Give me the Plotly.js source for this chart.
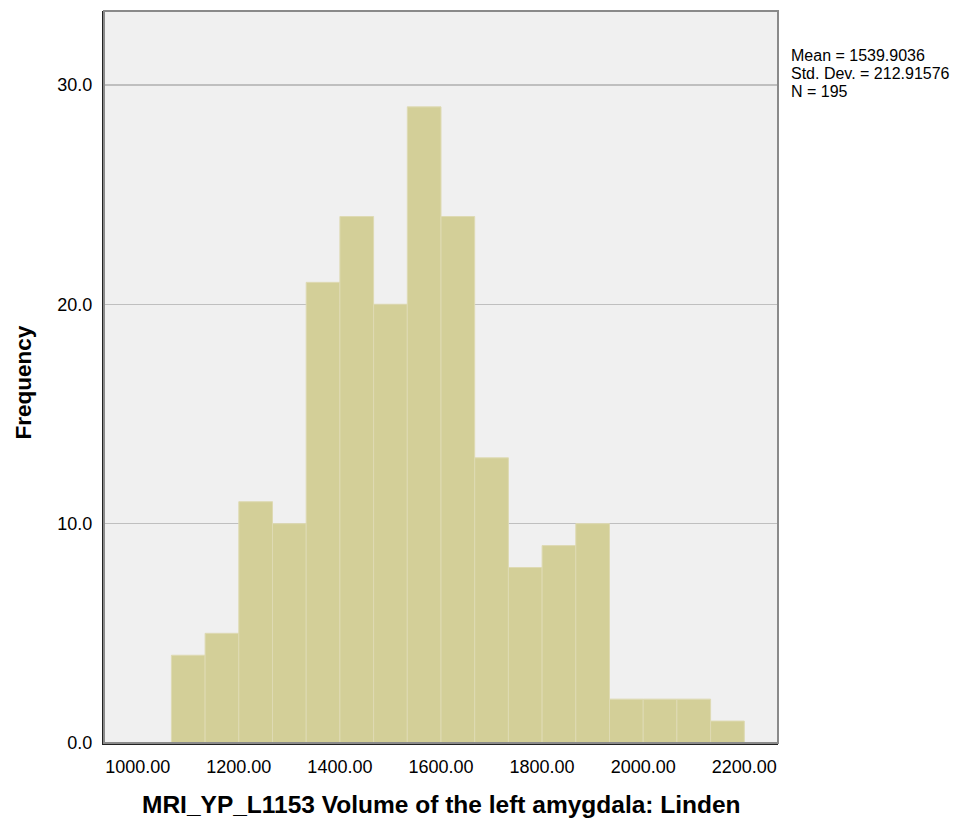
<!DOCTYPE html>
<html>
<head>
<meta charset="utf-8">
<script src="https://cdn.plot.ly/plotly-3.0.1.min.js"></script>
<style>html,body{margin:0;padding:0;background:#fff;}#chart{width:975px;height:829px;}</style>
</head>
<body>
<div id="chart"></div>
<script>
// Histogram bin edges (18 edges -> 17 bins) and frequencies
const binEdges = [1066.67, 1133.33, 1200.00, 1266.67, 1333.33, 1400.00, 1466.67, 1533.33, 1600.00,
                  1666.67, 1733.33, 1800.00, 1866.67, 1933.33, 2000.00, 2066.67, 2133.33, 2200.00];
const counts = [4, 5, 11, 10, 21, 24, 20, 29, 24, 13, 8, 9, 10, 2, 2, 2, 1];
const xTickVals = [1000, 1200, 1400, 1600, 1800, 2000, 2200];
const yTickVals = [0, 10, 20, 30];
const statsLines = ["Mean = 1539.9036", "Std. Dev. = 212.91576", "N = 195"];
const xTitle = "MRI_YP_L1153 Volume of the left amygdala: Linden";
const yTitle = "Frequency";

const binLow = binEdges.slice(0, -1);
const binWidths = binLow.map((v, i) => binEdges[i + 1] - v);
const binCenters = binLow.map((v, i) => v + binWidths[i] / 2);

const font = "Liberation Sans, Arial, sans-serif";

const trace = {
  type: "bar",
  x: binCenters,
  y: counts,
  width: binWidths,
  marker: { color: "#d3cf98", line: { color: "#dedab3", width: 1 } },
  hoverinfo: "x+y"
};

const annotations = [
  { text: "<b>" + xTitle + "</b>", xref: "paper", yref: "paper", x: 0.5, y: 0, yshift: -61.5,
    xanchor: "center", yanchor: "middle", showarrow: false, font: { family: font, size: 24.5, color: "#000" } },
  { text: "<b>" + yTitle + "</b>", xref: "paper", yref: "paper", x: 0, y: 0.5, xshift: -81.5, yshift: -6,
    xanchor: "center", yanchor: "middle", textangle: -90, showarrow: false, font: { family: font, size: 22.5, color: "#000" } }
];
const lineOffsets = [44.5, 62.5, 80.5];
statsLines.forEach((t, i) => {
  annotations.push({ text: t, xref: "paper", yref: "paper", x: 1, y: 1, xshift: 11, yshift: -lineOffsets[i],
    xanchor: "left", yanchor: "middle", showarrow: false, font: { family: font, size: 16, color: "#000" } });
});

const layout = {
  width: 975, height: 829,
  margin: { l: 104, r: 197, t: 11, b: 85.5, pad: 0 },
  paper_bgcolor: "#ffffff",
  plot_bgcolor: "#f0f0f0",
  showlegend: false,
  bargap: 0,
  font: { family: font, color: "#000" },
  xaxis: {
    range: [933.33, 2266.67],
    tickvals: xTickVals,
    tickformat: ".2f",
    showgrid: false, zeroline: false,
    showline: true, linecolor: "#222", linewidth: 2,
    ticks: "", ticklabelstandoff: 6,
    tickfont: { family: font, size: 18, color: "#000" },
    fixedrange: true
  },
  yaxis: {
    range: [0, 33.37],
    tickvals: yTickVals,
    tickformat: ".1f",
    showgrid: true, gridcolor: "#bfbfbf", gridwidth: 1.5,
    zeroline: false,
    showline: true, linecolor: "#222", linewidth: 2,
    ticks: "", ticklabelstandoff: 6,
    tickfont: { family: font, size: 18, color: "#000" },
    fixedrange: true
  },
  shapes: [
    { type: "rect", xref: "paper", yref: "paper", x0: 0, x1: 1, y0: 0, y1: 1,
      line: { color: "#8a8a8a", width: 2 }, fillcolor: "rgba(0,0,0,0)", layer: "above" }
  ],
  annotations: annotations
};

Plotly.newPlot("chart", [trace], layout, { displayModeBar: false, staticPlot: true });
</script>
</body>
</html>
